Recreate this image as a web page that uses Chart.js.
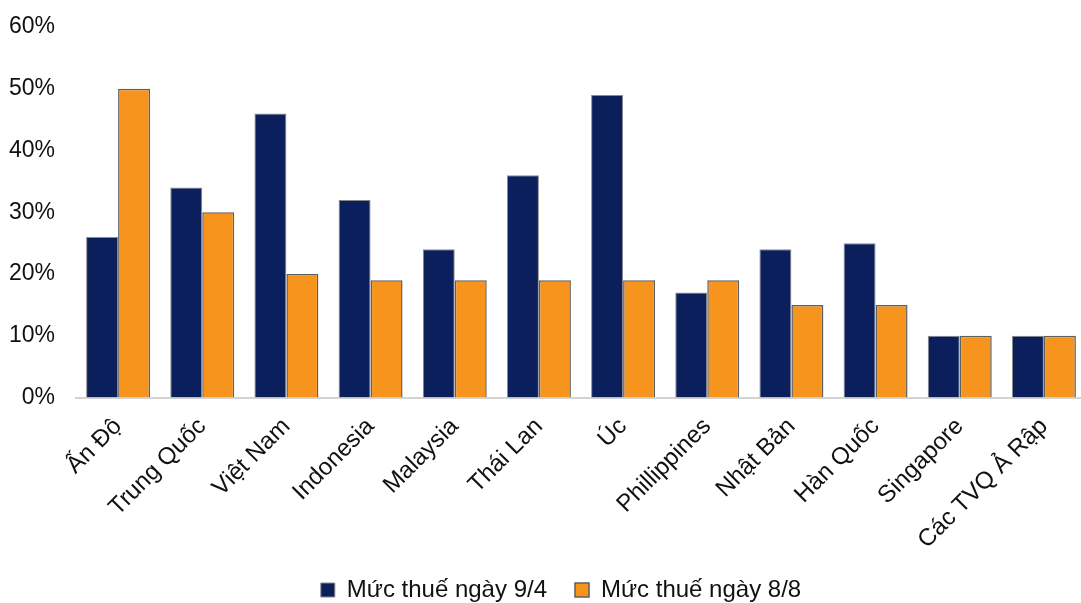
<!DOCTYPE html>
<html>
<head>
<meta charset="utf-8">
<script src="https://cdn.jsdelivr.net/npm/chart.js@4"></script>
<style>
html,body{margin:0;padding:0;background:#fff;overflow:hidden;}
#wrap{width:1086px;height:603px;position:relative;}
</style>
</head>
<body>
<div id="wrap"><canvas id="c"></canvas></div>
<script>
const categories = ["Ấn Độ","Trung Quốc","Việt Nam","Indonesia","Malaysia","Thái Lan","Úc","Phillippines","Nhật Bản","Hàn Quốc","Singapore","Các TVQ Ả Rập"];
const rateApr9 = [26,34,46,32,24,36,49,17,24,25,10,10];
const rateAug8 = [50,30,20,19,19,19,19,19,15,15,10,10];
const seriesNames = ["Mức thuế ngày 9/4","Mức thuế ngày 8/8"];
const yTicks = [0,10,20,30,40,50,60];

// let the layout padding alone decide the plot position, and do not clip tick labels
if (Chart.Scale && Chart.Scale.prototype._calculatePadding) {
  const proto = Chart.Scale.prototype;
  const orig = proto._calculatePadding;
  proto._calculatePadding = function (...a) {
    orig.apply(this, a);
    this.paddingLeft = 0; this.paddingRight = 0; this.paddingTop = 0; this.paddingBottom = 0;
  };
  proto._computeLabelArea = function () { return undefined; };
}

const FONT = "'Liberation Sans', Arial, sans-serif";
new Chart(document.getElementById('c'), {
  type: 'bar',
  data: {
    labels: categories,
    datasets: [
      {label: seriesNames[0], data: rateApr9, backgroundColor: '#0B1F5C', borderColor: '#8a8a8a', borderWidth: 1, categoryPercentage: 0.76, barPercentage: 1.0},
      {label: seriesNames[1], data: rateAug8, backgroundColor: '#F7941D', borderColor: '#5f5f5f', borderWidth: 1.5, categoryPercentage: 0.76, barPercentage: 1.0}
    ]
  },
  options: {
    responsive: true,
    maintainAspectRatio: false,
    animation: false,
    layout: {padding: {left: 36, right: 0, top: 27, bottom: -9}},
    plugins: {
      tooltip: {enabled: false},
      legend: {
        position: 'bottom',
        labels: {
          font: {family: FONT, size: 24},
          color: '#111',
          boxWidth: 14, boxHeight: 14,
          padding: 28
        }
      }
    },
    scales: {
      x: {
        grid: {display: false, drawTicks: false},
        border: {display: true, color: '#d3d3d3', width: 2},
        ticks: {font: {family: FONT, size: 24}, color: '#111', minRotation: 45, maxRotation: 45, padding: 15, autoSkip: false},
        afterFit: (s) => { s.height = 152.5; }
      },
      y: {
        min: 0, max: 60,
        afterBuildTicks: (s) => { s.ticks = yTicks.map(v => ({value: v})); },
        grid: {display: false, drawTicks: false},
        border: {display: false},
        ticks: {font: {family: FONT, size: 23}, color: '#111', padding: 21, callback: v => v + '%'},
        afterFit: (s) => { s.width = 40; }
      }
    }
  }
});
</script>
</body>
</html>
